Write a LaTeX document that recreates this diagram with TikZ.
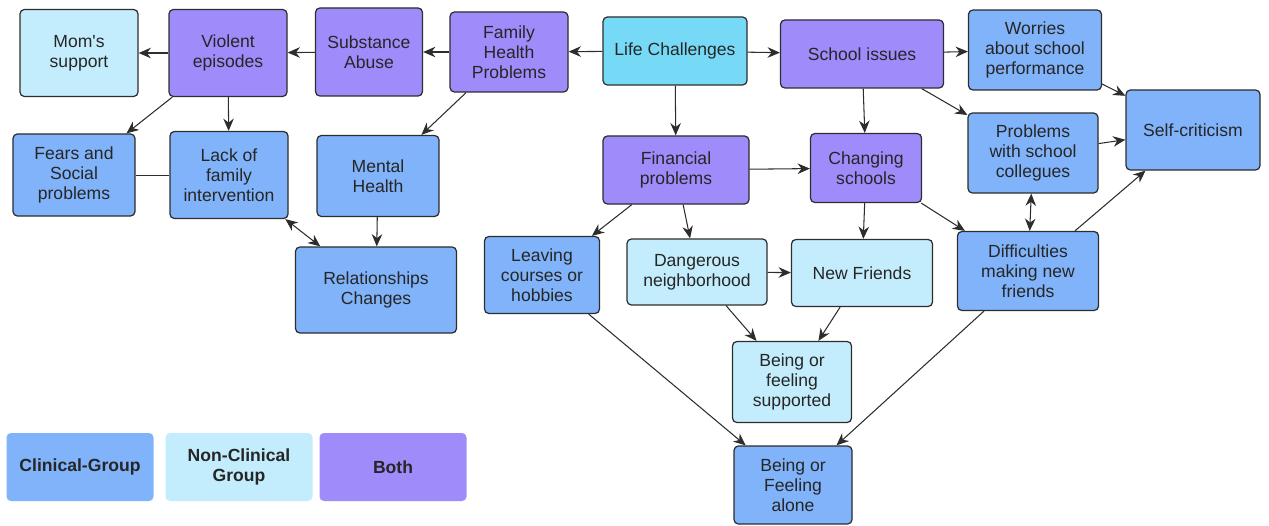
\documentclass[tikz,border=0pt]{standalone}
\usepackage{fontspec}
\setmainfont{Liberation Sans}
\usetikzlibrary{arrows.meta,shapes}
\definecolor{clinical}{RGB}{128, 179, 250}
\definecolor{nonclinical}{RGB}{195, 237, 252}
\definecolor{both}{RGB}{160, 139, 251}
\definecolor{lifecyan}{RGB}{118, 218, 247}
\definecolor{darkline}{RGB}{45, 45, 45}
\tikzstyle{basestep}=[draw=darkline,line width=0.7pt,rounded corners=2.5pt,align=center,text=black!85,font=\fontsize{10}{11.4}\selectfont,inner sep=2pt]
\tikzstyle{clinicalstep}=[basestep,fill=clinical]
\tikzstyle{nonclinicalstep}=[basestep,fill=nonclinical]
\tikzstyle{bothstep}=[basestep,fill=both]
\tikzstyle{lifestep}=[basestep,fill=lifecyan]
\tikzstyle{legendstep}=[basestep,draw=none,font=\fontsize{10}{11.4}\selectfont\bfseries,minimum width=2.94cm,minimum height=1.36cm]
\tikzstyle{orientedarc}=[-{Stealth[length=7pt,width=6pt]},darkline,line width=0.6pt]
\tikzstyle{arc}=[{Stealth[length=7pt,width=6pt]}-{Stealth[length=7pt,width=6pt]},darkline,line width=0.6pt]
\tikzstyle{plainarc}=[darkline,line width=0.5pt]

\begin{document}
\begin{tikzpicture}

\useasboundingbox (0cm,0cm) rectangle (25.38cm,10.5cm);

% top row
\node[nonclinicalstep,minimum width=2.36cm,minimum height=1.74cm] (MOM) at (1.58cm,9.44cm) {Mom\textquotesingle s\\support};
\node[bothstep,minimum width=2.36cm,minimum height=1.74cm] (VIOLENT) at (4.56cm,9.44cm) {Violent\\episodes};
\node[bothstep,minimum width=2.14cm,minimum height=1.76cm] (SUBSTANCE) at (7.38cm,9.46cm) {Substance\\Abuse};
\node[bothstep,minimum width=2.36cm,minimum height=1.60cm] (FAMILY) at (10.18cm,9.46cm) {Family\\Health\\Problems};
\node[lifestep,minimum width=2.88cm,minimum height=1.36cm] (LIFE) at (13.50cm,9.48cm) {Life Challenges};
\node[bothstep,minimum width=3.26cm,minimum height=1.36cm] (SCHOOL) at (17.24cm,9.42cm) {School issues};
\node[clinicalstep,minimum width=2.66cm,minimum height=1.60cm] (WORRIES) at (20.70cm,9.50cm) {Worries\\about school\\performance};
\node[clinicalstep,minimum width=2.68cm,minimum height=1.60cm] (SELF) at (23.86cm,7.90cm) {Self-criticism};
\node[clinicalstep,minimum width=2.60cm,minimum height=1.60cm] (COLLEGUES) at (20.66cm,7.44cm) {Problems\\with school\\collegues};

% second row
\node[clinicalstep,minimum width=2.44cm,minimum height=1.64cm] (FEARS) at (1.48cm,7.00cm) {Fears and\\Social\\problems};
\node[clinicalstep,minimum width=2.36cm,minimum height=1.74cm] (LACK) at (4.58cm,7.00cm) {Lack of\\family\\intervention};
\node[clinicalstep,minimum width=2.44cm,minimum height=1.62cm] (MENTAL) at (7.56cm,6.98cm) {Mental\\Health};
\node[clinicalstep,minimum width=3.22cm,minimum height=1.72cm] (RELATION) at (7.52cm,4.70cm) {Relationships\\Changes};
\node[bothstep,minimum width=2.92cm,minimum height=1.36cm] (FINANCIAL) at (13.52cm,7.10cm) {Financial\\problems};
\node[bothstep,minimum width=2.22cm,minimum height=1.38cm] (CHANGING) at (17.32cm,7.14cm) {Changing\\schools};

% third row
\node[clinicalstep,minimum width=2.30cm,minimum height=1.54cm] (LEAVING) at (10.84cm,5.00cm) {Leaving\\courses or\\hobbies};
\node[nonclinicalstep,minimum width=2.80cm,minimum height=1.32cm] (DANGER) at (13.94cm,5.06cm) {Dangerous\\neighborhood};
\node[nonclinicalstep,minimum width=2.82cm,minimum height=1.34cm] (NEWFRIENDS) at (17.24cm,5.04cm) {New Friends};
\node[clinicalstep,minimum width=2.82cm,minimum height=1.58cm] (DIFFICULT) at (20.56cm,5.08cm) {Difficulties\\making new\\friends};
\node[nonclinicalstep,minimum width=2.38cm,minimum height=1.62cm] (SUPPORTED) at (15.84cm,2.86cm) {Being or\\feeling\\supported};
\node[clinicalstep,minimum width=2.36cm,minimum height=1.56cm] (ALONE) at (15.86cm,0.80cm) {Being or\\Feeling\\alone};

% legend
\node[legendstep,fill=clinical] (LEGCLIN) at (1.60cm,1.16cm) {Clinical-Group};
\node[legendstep,fill=nonclinical] (LEGNON) at (4.78cm,1.16cm) {Non-Clinical\\Group};
\node[legendstep,fill=both] (LEGBOTH) at (7.86cm,1.16cm) {Both};

\draw[orientedarc] (LIFE) -- (FAMILY);
\draw[orientedarc] (LIFE) -- (SCHOOL);
\draw[orientedarc] (LIFE) -- (FINANCIAL);
\draw[orientedarc] (FAMILY) -- (SUBSTANCE);
\draw[orientedarc] (SUBSTANCE) -- (VIOLENT);
\draw[orientedarc] (VIOLENT) -- (MOM);
\draw[orientedarc] (VIOLENT) -- (FEARS);
\draw[orientedarc] (VIOLENT) -- (LACK);
\draw[plainarc] (FEARS) -- (LACK);
\draw[orientedarc] (FAMILY) -- (MENTAL);
\draw[orientedarc] (MENTAL) -- (RELATION);
\draw[arc] (LACK) -- (RELATION);
\draw[orientedarc] (FINANCIAL) -- (CHANGING);
\draw[orientedarc] (FINANCIAL) -- (LEAVING);
\draw[orientedarc] (FINANCIAL) -- (DANGER);
\draw[orientedarc] (SCHOOL) -- (CHANGING);
\draw[orientedarc] (SCHOOL) -- (WORRIES);
\draw[orientedarc] (SCHOOL) -- (COLLEGUES);
\draw[orientedarc] (WORRIES) -- (SELF);
\draw[orientedarc] (COLLEGUES) -- (SELF);
\draw[orientedarc] (DIFFICULT) -- (SELF);
\draw[arc] (COLLEGUES) -- (DIFFICULT);
\draw[orientedarc] (CHANGING) -- (NEWFRIENDS);
\draw[orientedarc] (CHANGING) -- (DIFFICULT);
\draw[orientedarc] (DANGER) -- (NEWFRIENDS);
\draw[orientedarc] (DANGER) -- (SUPPORTED);
\draw[orientedarc] (NEWFRIENDS) -- (SUPPORTED);
\draw[orientedarc] (LEAVING) -- (ALONE);
\draw[orientedarc] (DIFFICULT) -- (ALONE);

\end{tikzpicture}
\end{document}
